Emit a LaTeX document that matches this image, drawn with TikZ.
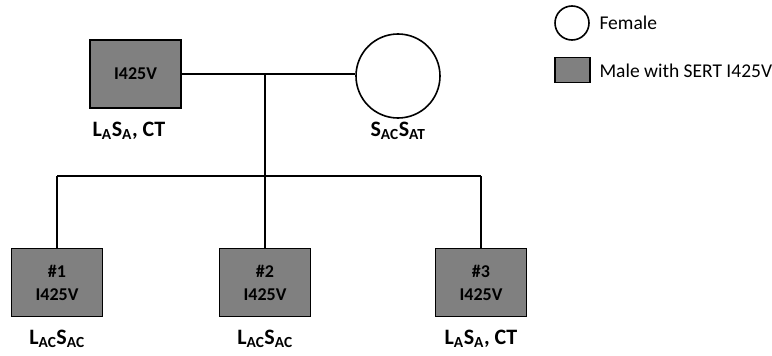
\documentclass[tikz,border=0pt]{standalone}
\usepackage{fontspec}
\setmainfont{Carlito}
\tikzset{
  malebox/.style={draw, line width=1.6pt, fill=black!50, minimum width=91pt, minimum height=68pt, align=center, font=\fontsize{18}{23}\selectfont\bfseries},
  femalecirc/.style={draw, line width=1.6pt, circle, minimum size=84pt, inner sep=0pt},
  gtlabel/.style={font=\fontsize{22}{24}\selectfont\bfseries},
  legtext/.style={anchor=west, font=\fontsize{19.5}{21}\selectfont}
}
\begin{document}
\begin{tikzpicture}[x=1pt, y=-1pt]
\useasboundingbox (0,0) rectangle (772,356);
% parents
\node[malebox] (father) at (135.5,74) {I425V};
\node[femalecirc] (mother) at (398,76) {};
\node[gtlabel] (fatherlab) at (129,131) {L\textsubscript{A}S\textsubscript{A}, CT};
\node[gtlabel] (motherlab) at (398,131) {S\textsubscript{AC}S\textsubscript{AT}};
% children
\node[malebox] (c1) at (57,282.5) {\#1\\I425V};
\node[malebox] (c2) at (265,282.5) {\#2\\I425V};
\node[malebox] (c3) at (481,282.5) {\#3\\I425V};
\node[gtlabel] (c1lab) at (57,339) {L\textsubscript{AC}S\textsubscript{AC}};
\node[gtlabel] (c2lab) at (265,339) {L\textsubscript{AC}S\textsubscript{AC}};
\node[gtlabel] (c3lab) at (481,339) {L\textsubscript{A}S\textsubscript{A}, CT};
% lines
\coordinate (mid) at (265,74);
\coordinate (sib) at (265,176);
\draw[line width=1.3pt] (father.east) -- (mother.west |- father.east);
\draw[line width=1.3pt] (mid) -- (sib);
\draw[line width=1.3pt] (c1 |- sib) -- (c3 |- sib);
\draw[line width=1.3pt] (c1 |- sib) -- (c1);
\draw[line width=1.3pt] (c2 |- sib) -- (c2);
\draw[line width=1.3pt] (c3 |- sib) -- (c3);
% legend
\node[draw, line width=1.6pt, circle, minimum size=34pt, inner sep=0pt] (legf) at (572,23) {};
\node[draw, line width=1.6pt, fill=black!50, minimum width=35pt, minimum height=25pt, inner sep=0pt] (legm) at (572.5,70) {};
\node[legtext] at (596,23) {Female};
\node[legtext] at (596,71) {Male with SERT I425V};
\end{tikzpicture}
\end{document}
